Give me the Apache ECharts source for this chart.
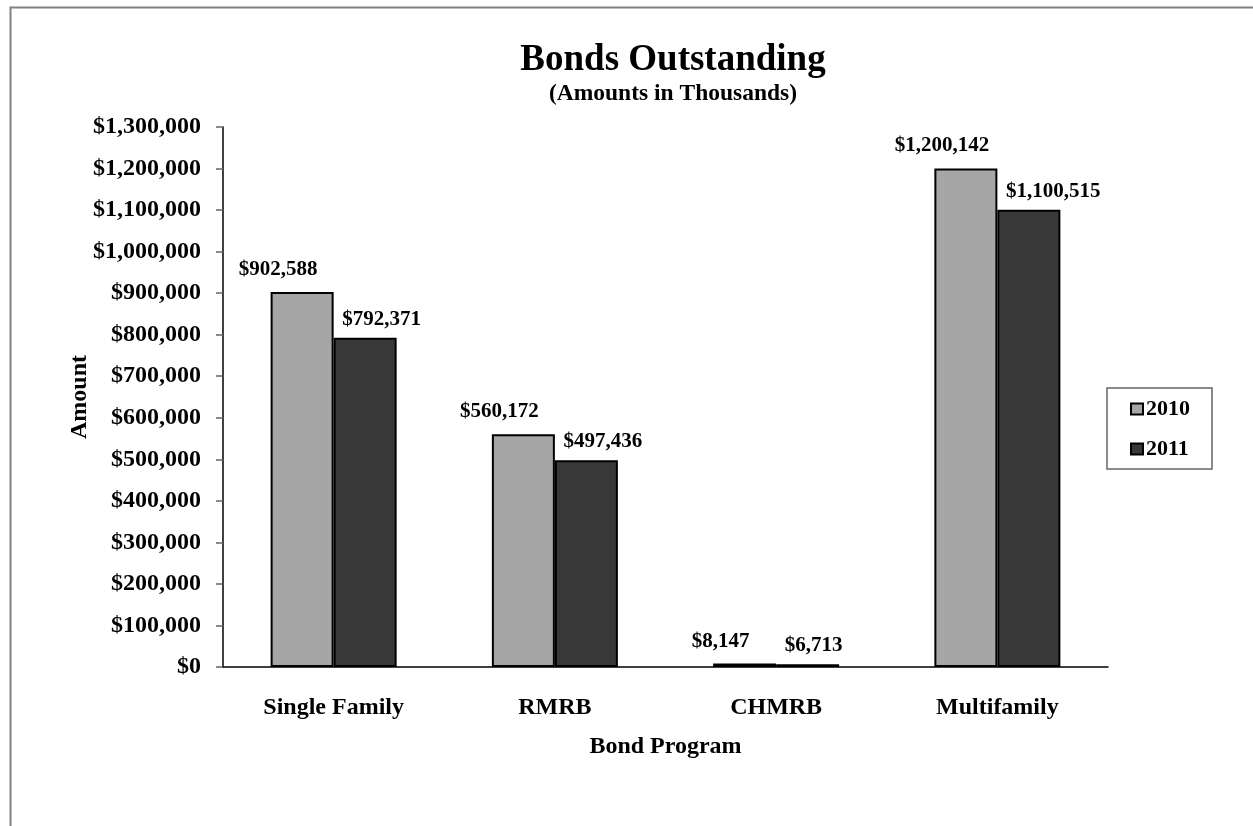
<!DOCTYPE html>
<html><head><meta charset="utf-8">
<script src="https://cdn.jsdelivr.net/npm/echarts@6/dist/echarts.min.js"></script>
<style>html,body{margin:0;padding:0;background:#fff}#c{width:1253px;height:826px}</style>
</head><body><div id="c"></div>
<script>
const categories = ['Single Family', 'RMRB', 'CHMRB', 'Multifamily'];
const values2010 = [902588, 560172, 8147, 1200142];
const values2011 = [792371, 497436, 6713, 1100515];
const seriesNames = ['2010', '2011'];

const FONT = "'Liberation Serif', 'Times New Roman', serif";
const money = v => '$' + Number(v).toLocaleString('en-US');

const chart = echarts.init(document.getElementById('c'));
chart.setOption({
  backgroundColor: '#fff',
  animation: false,
  graphic: [{
    type: 'rect', left: 8, top: 5, silent: true,
    shape: { width: 1300, height: 900 },
    style: { fill: 'none', stroke: '#808080', lineWidth: 2 }
  }],
  title: {
    text: 'Bonds Outstanding',
    subtext: '(Amounts in Thousands)',
    left: 668, textAlign: 'center', top: 37, itemGap: 3,
    textStyle: { fontFamily: FONT, fontSize: 37, fontWeight: 'bold', color: '#000' },
    subtextStyle: { fontFamily: FONT, fontSize: 23.5, fontWeight: 'bold', color: '#000' }
  },
  legend: {
    orient: 'vertical', left: 1107, top: 388,
    padding: [10, 22, 9, 23], itemGap: 18,
    itemWidth: 12, itemHeight: 11, icon: 'rect',
    borderColor: '#666', borderWidth: 1.5,
    textStyle: { fontFamily: FONT, fontSize: 22, fontWeight: 'bold', color: '#000', padding: [0,0,0,-2] }
  },
  grid: { left: 223, right: 145, top: 127, bottom: 159, containLabel: false },
  xAxis: {
    type: 'category', data: categories,
    name: 'Bond Program', nameLocation: 'middle', nameGap: 68, nameMoveOverlap: false,
    nameTextStyle: { fontFamily: FONT, fontSize: 24, fontWeight: 'bold', color: '#000' },
    axisLine: { lineStyle: { color: '#000', width: 1.5 } },
    axisTick: { length: 7, lineStyle: { color: '#666', width: 1.5 } },
    axisLabel: { margin: 29, fontFamily: FONT, fontSize: 24, fontWeight: 'bold', color: '#000' }
  },
  yAxis: {
    type: 'value', min: 0, max: 1300000, interval: 100000,
    name: 'Amount', nameLocation: 'middle', nameGap: 131, nameMoveOverlap: false,
    nameTextStyle: { fontFamily: FONT, fontSize: 24, fontWeight: 'bold', color: '#000' },
    splitLine: { show: false },
    axisLine: { show: true, lineStyle: { color: '#000', width: 1.5 } },
    axisTick: { show: true, length: 7, lineStyle: { color: '#666', width: 1.5 } },
    axisLabel: { margin: 22, fontFamily: FONT, fontSize: 24, fontWeight: 'bold', color: '#000', formatter: money }
  },
  series: [
    {
      name: seriesNames[0], type: 'bar', data: values2010,
      barWidth: 63, barGap: '0%',
      itemStyle: { color: '#a6a6a6', borderColor: '#000', borderWidth: 2 },
      label: { show: true, position: 'top', distance: 12, offset: [-24, 0], formatter: p => money(p.value),
        fontFamily: FONT, fontSize: 21, fontWeight: 'bold', color: '#000' }
    },
    {
      name: seriesNames[1], type: 'bar', data: values2011,
      barWidth: 63, barGap: '0%',
      itemStyle: { color: '#383838', borderColor: '#000', borderWidth: 2 },
      label: { show: true, position: 'top', distance: 8, offset: [-23, 0], align: 'left', formatter: p => money(p.value),
        fontFamily: FONT, fontSize: 21, fontWeight: 'bold', color: '#000' }
    }
  ]
});
</script></body></html>
